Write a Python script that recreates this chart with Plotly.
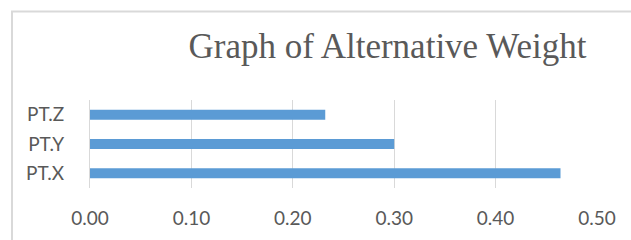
import plotly.graph_objects as go

categories = ["PT.X", "PT.Y", "PT.Z"]
weights = [0.464, 0.300, 0.232]
x_ticks = [0.0, 0.1, 0.2, 0.3, 0.4, 0.5]
x_tick_labels = ["0.00", "0.10", "0.20", "0.30", "0.40", "0.50"]
title_text = "Graph of Alternative Weight"

W, H = 631, 240
L, R, T, B = 90, 34, 100, 52
pw = W - L - R
ph = H - T - B

fig = go.Figure(go.Bar(
    x=weights, y=categories, orientation="h",
    marker=dict(color="#5B9BD5", line=dict(width=0)),
))

fig.update_layout(
    width=W, height=H,
    margin=dict(l=L, r=R, t=T, b=B),
    paper_bgcolor="white", plot_bgcolor="white",
    bargap=0.66,
    showlegend=False,
    title=dict(
        text=title_text,
        font=dict(family="Liberation Serif", size=35, color="#595959"),
        x=387.5 / W, xref="container", xanchor="center",
        y=1 - 46 / H, yref="container", yanchor="middle",
    ),
    xaxis=dict(
        range=[0, 0.5], tickvals=x_ticks, ticktext=x_tick_labels,
        showgrid=True, gridcolor="#D9D9D9", gridwidth=1,
        zeroline=False, showline=False, ticks="",
        tickfont=dict(family="Lato", size=19, color="#595959"),
        ticklabelstandoff=17, automargin=False,
    ),
    yaxis=dict(
        showgrid=False, zeroline=False, ticks="",
        showline=True, linecolor="#D9D9D9", linewidth=1,
        tickfont=dict(family="Lato", size=19, color="#595959"),
        ticklabelstandoff=21, automargin=False,
    ),
    shapes=[dict(
        type="rect", xref="paper", yref="paper",
        x0=(12 - L) / pw, x1=(W + 20 - L) / pw,
        y0=-(B + 20) / ph, y1=(H - B - 11.5) / ph,
        line=dict(color="#D9D9D9", width=2), fillcolor="rgba(0,0,0,0)",
        layer="below",
    )],
)

fig.write_html(
    "out.html",
    config={"displayModeBar": False},
    post_script="document.body.style.margin='0';document.body.style.overflow='hidden';",
)
